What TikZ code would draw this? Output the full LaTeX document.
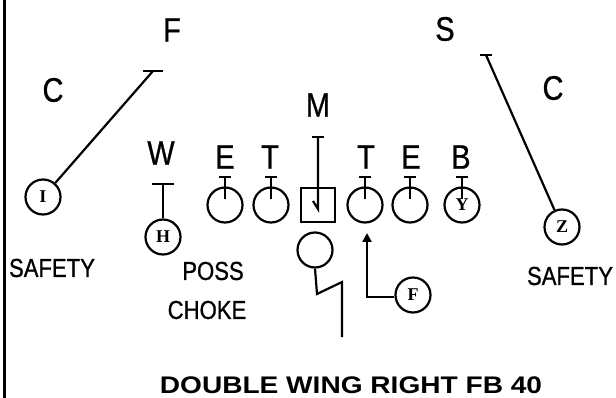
\documentclass[tikz,border=0pt]{standalone}
\usepackage{fontspec}
\setmainfont{Liberation Sans}
\newfontfamily\narrowsans[FakeStretch=0.85,FakeBold=0.8]{Liberation Sans}
\newfontfamily\widebold[FakeStretch=1.17]{Liberation Sans}
\newfontfamily\playerfont{Liberation Serif}
\usetikzlibrary{arrows.meta,positioning}

\begin{document}
\begin{tikzpicture}[
    x=1pt, y=-1pt,
    line width=2.2pt,
    >={Triangle[width=9pt,length=9pt]},
    tag/.style={inner sep=0pt, font=\narrowsans\fontsize{34}{34}\selectfont},
    note/.style={inner sep=0pt, font=\narrowsans\fontsize{26}{26}\selectfont},
    player/.style={circle, draw, minimum size=35pt, inner sep=0pt,
        font=\playerfont\bfseries\fontsize{18}{18}\selectfont},
    snapbox/.style={draw, minimum size=34pt, inner sep=0pt}
]
\useasboundingbox (0,0) rectangle (616,398);

% page edge
\draw[line width=3pt] (4,0) -- (4,398);

% defense
\node[tag] (freeS) at (172,30) {F};
\node[tag] (strongS) at (445,29) {S};
\node[tag] (leftC) at (53,90) {C};
\node[tag] (rightC) at (553,88) {C};
\node[tag] (mike) at (318,105) {M};
\node[tag] (will) at (161,153) {W};
\node[tag] (leftE) at (225,157) {E};
\node[tag] (leftT) at (270,157) {T};
\node[tag] (rightT) at (366,157) {T};
\node[tag] (rightE) at (411,157) {E};
\node[tag] (buck) at (461,157) {B};

% offense line
\node[player] (LE) at (225,205) {};
\node[player] (LT) at (271,205) {};
\node[snapbox] (ctr) at (318,205) {};
\node[player] (RT) at (365,205) {};
\node[player] (RE) at (410,205) {};
\node[player] (RB) at (462,205) {Y};

% backs
\node[player] (I) at (43,197) {I};
\node[player] (H) at (163,237) {H};
\node[player] (Z) at (562,227) {Z};
\node[player] (QB) at (315,250) {};
\node[player] (FB) at (413,295) {F};

% blocks
\foreach \n in {LE,LT,RT,RE,RB}
    \draw ([yshift=6pt]\n.center) -- ([yshift=28pt]\n.center)
        ([shift={(-6pt,28pt)}]\n.center) -- ([shift={(6pt,28pt)}]\n.center);

\coordinate (Ibar) at (153,71);
\coordinate (Hbar) at (163,184);
\coordinate (Zbar) at (486,55);
\coordinate (Mbar) at (318,137);

\draw (I) -- (Ibar);
\draw ([xshift=-10pt]Ibar) -- ([xshift=10pt]Ibar);
\draw (H) -- (Hbar);
\draw ([xshift=-11pt]Hbar) -- ([xshift=11pt]Hbar);
\draw (Z) -- (Zbar);
\draw ([xshift=-6pt]Zbar) -- ([xshift=6pt]Zbar);
\draw (Mbar) -- (318,209) -- (313,201);
\draw ([xshift=-6pt]Mbar) -- ([xshift=6pt]Mbar);

% fullback path
\coordinate (hole) at (367,233);
\draw[->] (FB.west |- 0,297) -- (367,297) -- (hole);

% quarterback drop
\draw (QB.south) -- (317,294) -- (342,282) -- (342,337);

% notes
\node[note] (safL) at (52,268) {SAFETY};
\node[note] (poss) at (213,271) {POSS};
\node[note] (choke) at (207,310) {CHOKE};
\node[note] (safR) at (570,276) {SAFETY};
\node[inner sep=0pt, font=\widebold\bfseries\fontsize{24}{24}\selectfont] (title) at (351,385) {DOUBLE WING RIGHT FB 40};

\end{tikzpicture}
\end{document}
